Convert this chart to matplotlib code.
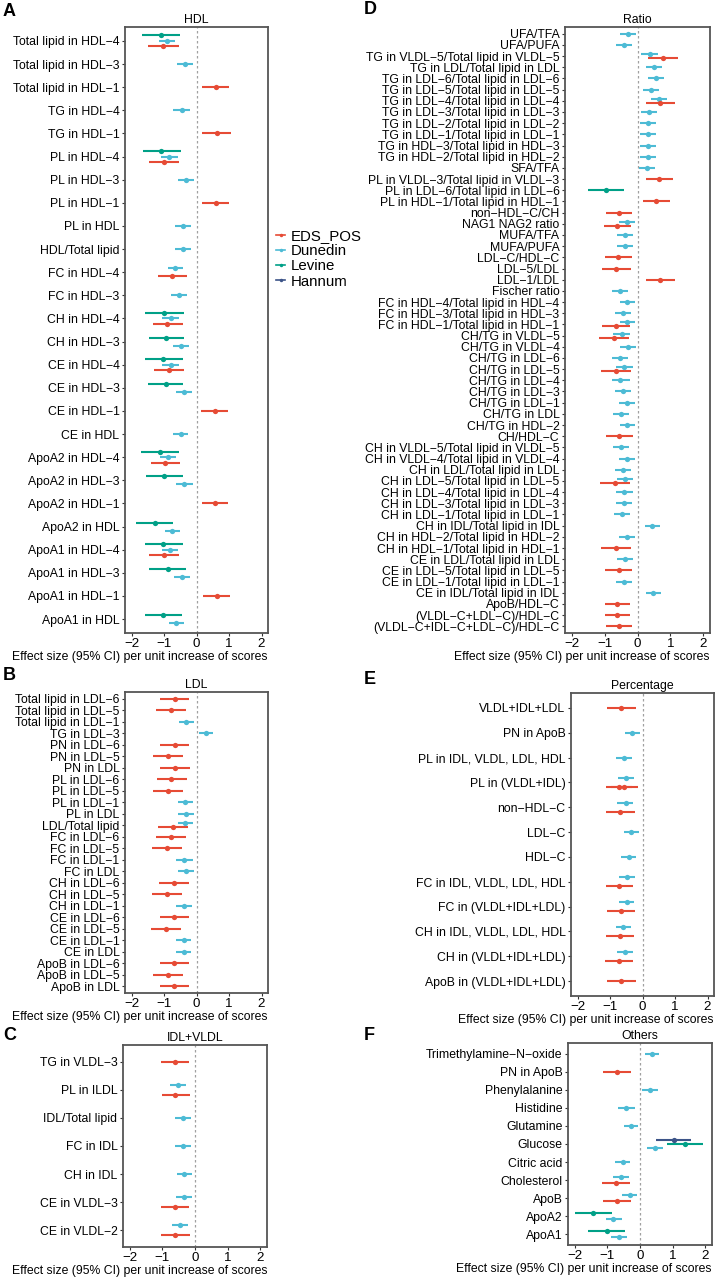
import matplotlib
matplotlib.use("Agg")
import matplotlib.pyplot as plt
from matplotlib.lines import Line2D

plt.rcParams['font.family'] = ['Liberation Sans', 'DejaVu Sans']

# cohorts, drawn top to bottom inside a row
cohorts = ['Hannum', 'Levine', 'Dunedin', 'EDS_POS']
colors = {'EDS_POS': '#E64B35', 'Dunedin': '#4DBBD5',
          'Levine': '#00A087', 'Hannum': '#3C5488'}
legend_order = ['EDS_POS', 'Dunedin', 'Levine', 'Hannum']

# ---- A: HDL  (label, cohort, estimate, lower, upper)
hdl_labels = ['Total lipid in HDL-4', 'Total lipid in HDL-3', 'Total lipid in HDL-1',
              'TG in HDL-4', 'TG in HDL-1', 'PL in HDL-4', 'PL in HDL-3', 'PL in HDL-1',
              'PL in HDL', 'HDL/Total lipid', 'FC in HDL-4', 'FC in HDL-3',
              'CH in HDL-4', 'CH in HDL-3', 'CE in HDL-4', 'CE in HDL-3', 'CE in HDL-1',
              'CE in HDL', 'ApoA2 in HDL-4', 'ApoA2 in HDL-3', 'ApoA2 in HDL-1',
              'ApoA2 in HDL', 'ApoA1 in HDL-4', 'ApoA1 in HDL-3', 'ApoA1 in HDL-1',
              'ApoA1 in HDL']
hdl_rows = [
    ('Total lipid in HDL-4', 'Levine', -1.10, -1.68, -0.50),
    ('Total lipid in HDL-4', 'Dunedin', -0.91, -1.15, -0.66),
    ('Total lipid in HDL-4', 'EDS_POS', -1.03, -1.49, -0.55),
    ('Total lipid in HDL-3', 'Dunedin', -0.36, -0.61, -0.12),
    ('Total lipid in HDL-1', 'EDS_POS', 0.59, 0.18, 1.00),
    ('TG in HDL-4', 'Dunedin', -0.46, -0.71, -0.21),
    ('TG in HDL-1', 'EDS_POS', 0.63, 0.18, 1.06),
    ('PL in HDL-4', 'Levine', -1.08, -1.66, -0.48),
    ('PL in HDL-4', 'Dunedin', -0.84, -1.09, -0.58),
    ('PL in HDL-4', 'EDS_POS', -1.00, -1.47, -0.53),
    ('PL in HDL-3', 'Dunedin', -0.33, -0.56, -0.09),
    ('PL in HDL-1', 'EDS_POS', 0.60, 0.18, 1.00),
    ('PL in HDL', 'Dunedin', -0.42, -0.65, -0.17),
    ('HDL/Total lipid', 'Dunedin', -0.43, -0.67, -0.18),
    ('FC in HDL-4', 'Dunedin', -0.65, -0.87, -0.41),
    ('FC in HDL-4', 'EDS_POS', -0.75, -1.18, -0.30),
    ('FC in HDL-3', 'Dunedin', -0.53, -0.78, -0.30),
    ('CH in HDL-4', 'Levine', -1.00, -1.58, -0.40),
    ('CH in HDL-4', 'Dunedin', -0.79, -1.05, -0.53),
    ('CH in HDL-4', 'EDS_POS', -0.91, -1.35, -0.43),
    ('CH in HDL-3', 'Levine', -0.94, -1.46, -0.38),
    ('CH in HDL-3', 'Dunedin', -0.47, -0.71, -0.23),
    ('CE in HDL-4', 'Levine', -1.02, -1.58, -0.43),
    ('CE in HDL-4', 'Dunedin', -0.80, -1.05, -0.53),
    ('CE in HDL-4', 'EDS_POS', -0.85, -1.30, -0.38),
    ('CE in HDL-3', 'Levine', -0.95, -1.48, -0.42),
    ('CE in HDL-3', 'Dunedin', -0.39, -0.62, -0.15),
    ('CE in HDL-1', 'EDS_POS', 0.56, 0.15, 0.97),
    ('CE in HDL', 'Dunedin', -0.48, -0.72, -0.25),
    ('ApoA2 in HDL-4', 'Levine', -1.12, -1.71, -0.53),
    ('ApoA2 in HDL-4', 'Dunedin', -0.88, -1.13, -0.64),
    ('ApoA2 in HDL-4', 'EDS_POS', -0.96, -1.41, -0.50),
    ('ApoA2 in HDL-3', 'Levine', -1.00, -1.56, -0.43),
    ('ApoA2 in HDL-3', 'Dunedin', -0.37, -0.62, -0.12),
    ('ApoA2 in HDL-1', 'EDS_POS', 0.57, 0.16, 0.98),
    ('ApoA2 in HDL', 'Levine', -1.28, -1.85, -0.72),
    ('ApoA2 in HDL', 'Dunedin', -0.75, -0.97, -0.50),
    ('ApoA1 in HDL-4', 'Levine', -1.02, -1.60, -0.42),
    ('ApoA1 in HDL-4', 'Dunedin', -0.81, -1.06, -0.56),
    ('ApoA1 in HDL-4', 'EDS_POS', -1.00, -1.45, -0.53),
    ('ApoA1 in HDL-3', 'Levine', -0.89, -1.46, -0.33),
    ('ApoA1 in HDL-3', 'Dunedin', -0.44, -0.69, -0.19),
    ('ApoA1 in HDL-1', 'EDS_POS', 0.62, 0.21, 1.03),
    ('ApoA1 in HDL', 'Levine', -1.04, -1.58, -0.46),
    ('ApoA1 in HDL', 'Dunedin', -0.63, -0.86, -0.38),
]

# ---- B: LDL
ldl_labels = ['Total lipid in LDL-6', 'Total lipid in LDL-5', 'Total lipid in LDL-1',
              'TG in LDL-3', 'PN in LDL-6', 'PN in LDL-5', 'PN in LDL', 'PL in LDL-6',
              'PL in LDL-5', 'PL in LDL-1', 'PL in LDL', 'LDL/Total lipid', 'FC in LDL-6',
              'FC in LDL-5', 'FC in LDL-1', 'FC in LDL', 'CH in LDL-6', 'CH in LDL-5',
              'CH in LDL-1', 'CE in LDL-6', 'CE in LDL-5', 'CE in LDL-1', 'CE in LDL',
              'ApoB in LDL-6', 'ApoB in LDL-5', 'ApoB in LDL']
ldl_rows = [
    ('Total lipid in LDL-6', 'EDS_POS', -0.67, -1.12, -0.22),
    ('Total lipid in LDL-5', 'EDS_POS', -0.79, -1.24, -0.32),
    ('Total lipid in LDL-1', 'Dunedin', -0.31, -0.55, -0.08),
    ('TG in LDL-3', 'Dunedin', 0.30, 0.07, 0.52),
    ('PN in LDL-6', 'EDS_POS', -0.67, -1.12, -0.22),
    ('PN in LDL-5', 'EDS_POS', -0.88, -1.35, -0.41),
    ('PN in LDL', 'EDS_POS', -0.67, -1.12, -0.21),
    ('PL in LDL-6', 'EDS_POS', -0.77, -1.22, -0.29),
    ('PL in LDL-5', 'EDS_POS', -0.88, -1.35, -0.41),
    ('PL in LDL-1', 'Dunedin', -0.34, -0.58, -0.10),
    ('PL in LDL', 'Dunedin', -0.33, -0.57, -0.09),
    ('LDL/Total lipid', 'Dunedin', -0.34, -0.58, -0.10),
    ('LDL/Total lipid', 'EDS_POS', -0.73, -1.17, -0.27),
    ('FC in LDL-6', 'EDS_POS', -0.79, -1.25, -0.32),
    ('FC in LDL-5', 'EDS_POS', -0.91, -1.38, -0.45),
    ('FC in LDL-1', 'Dunedin', -0.37, -0.62, -0.12),
    ('FC in LDL', 'Dunedin', -0.32, -0.57, -0.08),
    ('CH in LDL-6', 'EDS_POS', -0.69, -1.14, -0.24),
    ('CH in LDL-5', 'EDS_POS', -0.90, -1.37, -0.44),
    ('CH in LDL-1', 'Dunedin', -0.39, -0.63, -0.15),
    ('CE in LDL-6', 'EDS_POS', -0.68, -1.12, -0.23),
    ('CE in LDL-5', 'EDS_POS', -0.94, -1.41, -0.48),
    ('CE in LDL-1', 'Dunedin', -0.40, -0.64, -0.17),
    ('CE in LDL', 'Dunedin', -0.39, -0.63, -0.16),
    ('ApoB in LDL-6', 'EDS_POS', -0.68, -1.12, -0.23),
    ('ApoB in LDL-5', 'EDS_POS', -0.88, -1.33, -0.41),
    ('ApoB in LDL', 'EDS_POS', -0.68, -1.12, -0.23),
]

# ---- C: IDL+VLDL
idl_labels = ['TG in VLDL-3', 'PL in ILDL', 'IDL/Total lipid', 'FC in IDL',
              'CH in IDL', 'CE in VLDL-3', 'CE in VLDL-2']
idl_rows = [
    ('TG in VLDL-3', 'EDS_POS', -0.62, -1.03, -0.19),
    ('PL in ILDL', 'Dunedin', -0.53, -0.76, -0.28),
    ('PL in ILDL', 'EDS_POS', -0.60, -1.02, -0.16),
    ('IDL/Total lipid', 'Dunedin', -0.37, -0.60, -0.13),
    ('FC in IDL', 'Dunedin', -0.37, -0.60, -0.13),
    ('CH in IDL', 'Dunedin', -0.33, -0.56, -0.09),
    ('CE in VLDL-3', 'Dunedin', -0.35, -0.58, -0.10),
    ('CE in VLDL-3', 'EDS_POS', -0.62, -1.05, -0.18),
    ('CE in VLDL-2', 'Dunedin', -0.46, -0.70, -0.21),
    ('CE in VLDL-2', 'EDS_POS', -0.60, -1.03, -0.16),
]

# ---- D: Ratio
ratio_labels = ['UFA/TFA', 'UFA/PUFA', 'TG in VLDL-5/Total lipid in VLDL-5',
                'TG in LDL/Total lipid in LDL', 'TG in LDL-6/Total lipid in LDL-6',
                'TG in LDL-5/Total lipid in LDL-5', 'TG in LDL-4/Total lipid in LDL-4',
                'TG in LDL-3/Total lipid in LDL-3', 'TG in LDL-2/Total lipid in LDL-2',
                'TG in LDL-1/Total lipid in LDL-1', 'TG in HDL-3/Total lipid in HDL-3',
                'TG in HDL-2/Total lipid in HDL-2', 'SFA/TFA',
                'PL in VLDL-3/Total lipid in VLDL-3', 'PL in LDL-6/Total lipid in LDL-6',
                'PL in HDL-1/Total lipid in HDL-1', 'non-HDL-C/CH', 'NAG1 NAG2 ratio',
                'MUFA/TFA', 'MUFA/PUFA', 'LDL-C/HDL-C', 'LDL-5/LDL', 'LDL-1/LDL',
                'Fischer ratio', 'FC in HDL-4/Total lipid in HDL-4',
                'FC in HDL-3/Total lipid in HDL-3', 'FC in HDL-1/Total lipid in HDL-1',
                'CH/TG in VLDL-5', 'CH/TG in VLDL-4', 'CH/TG in LDL-6', 'CH/TG in LDL-5',
                'CH/TG in LDL-4', 'CH/TG in LDL-3', 'CH/TG in LDL-1', 'CH/TG in LDL',
                'CH/TG in HDL-2', 'CH/HDL-C', 'CH in VLDL-5/Total lipid in VLDL-5',
                'CH in VLDL-4/Total lipid in VLDL-4', 'CH in LDL/Total lipid in LDL',
                'CH in LDL-5/Total lipid in LDL-5', 'CH in LDL-4/Total lipid in LDL-4',
                'CH in LDL-3/Total lipid in LDL-3', 'CH in LDL-1/Total lipid in LDL-1',
                'CH in IDL/Total lipid in IDL', 'CH in HDL-2/Total lipid in HDL-2',
                'CH in HDL-1/Total lipid in HDL-1', 'CE in LDL/Total lipid in LDL',
                'CE in LDL-5/Total lipid in LDL-5', 'CE in LDL-1/Total lipid in LDL-1',
                'CE in IDL/Total lipid in IDL', 'ApoB/HDL-C', '(VLDL-C+LDL-C)/HDL-C',
                '(VLDL-C+IDL-C+LDL-C)/HDL-C']
ratio_rows = [
    ('UFA/TFA', 'Dunedin', -0.29, -0.52, -0.04),
    ('UFA/PUFA', 'Dunedin', -0.42, -0.66, -0.18),
    ('TG in VLDL-5/Total lipid in VLDL-5', 'Dunedin', 0.37, 0.12, 0.63),
    ('TG in VLDL-5/Total lipid in VLDL-5', 'EDS_POS', 0.78, 0.32, 1.22),
    ('TG in LDL/Total lipid in LDL', 'Dunedin', 0.50, 0.27, 0.75),
    ('TG in LDL-6/Total lipid in LDL-6', 'Dunedin', 0.56, 0.33, 0.81),
    ('TG in LDL-5/Total lipid in LDL-5', 'Dunedin', 0.42, 0.17, 0.66),
    ('TG in LDL-4/Total lipid in LDL-4', 'Dunedin', 0.64, 0.40, 0.88),
    ('TG in LDL-4/Total lipid in LDL-4', 'EDS_POS', 0.69, 0.25, 1.15),
    ('TG in LDL-3/Total lipid in LDL-3', 'Dunedin', 0.35, 0.11, 0.59),
    ('TG in LDL-2/Total lipid in LDL-2', 'Dunedin', 0.33, 0.09, 0.57),
    ('TG in LDL-1/Total lipid in LDL-1', 'Dunedin', 0.33, 0.09, 0.57),
    ('TG in HDL-3/Total lipid in HDL-3', 'Dunedin', 0.31, 0.07, 0.55),
    ('TG in HDL-2/Total lipid in HDL-2', 'Dunedin', 0.31, 0.07, 0.55),
    ('SFA/TFA', 'Dunedin', 0.29, 0.06, 0.52),
    ('PL in VLDL-3/Total lipid in VLDL-3', 'EDS_POS', 0.65, 0.25, 1.07),
    ('PL in LDL-6/Total lipid in LDL-6', 'Levine', -0.95, -1.50, -0.40),
    ('PL in HDL-1/Total lipid in HDL-1', 'EDS_POS', 0.56, 0.16, 0.98),
    ('non-HDL-C/CH', 'EDS_POS', -0.55, -0.95, -0.16),
    ('NAG1 NAG2 ratio', 'Dunedin', -0.32, -0.55, -0.08),
    ('NAG1 NAG2 ratio', 'EDS_POS', -0.61, -1.01, -0.19),
    ('MUFA/TFA', 'Dunedin', -0.37, -0.61, -0.13),
    ('MUFA/PUFA', 'Dunedin', -0.39, -0.63, -0.14),
    ('LDL-C/HDL-C', 'EDS_POS', -0.59, -1.00, -0.16),
    ('LDL-5/LDL', 'EDS_POS', -0.65, -1.09, -0.21),
    ('LDL-1/LDL', 'EDS_POS', 0.69, 0.25, 1.14),
    ('Fischer ratio', 'Dunedin', -0.53, -0.77, -0.29),
    ('FC in HDL-4/Total lipid in HDL-4', 'Dunedin', -0.31, -0.54, -0.07),
    ('FC in HDL-3/Total lipid in HDL-3', 'Dunedin', -0.44, -0.68, -0.20),
    ('FC in HDL-1/Total lipid in HDL-1', 'Dunedin', -0.31, -0.52, -0.07),
    ('FC in HDL-1/Total lipid in HDL-1', 'EDS_POS', -0.66, -1.09, -0.24),
    ('CH/TG in VLDL-5', 'Dunedin', -0.47, -0.73, -0.22),
    ('CH/TG in VLDL-5', 'EDS_POS', -0.71, -1.17, -0.25),
    ('CH/TG in VLDL-4', 'Dunedin', -0.29, -0.52, -0.05),
    ('CH/TG in LDL-6', 'Dunedin', -0.53, -0.78, -0.28),
    ('CH/TG in LDL-5', 'Dunedin', -0.40, -0.65, -0.15),
    ('CH/TG in LDL-5', 'EDS_POS', -0.65, -1.11, -0.19),
    ('CH/TG in LDL-4', 'Dunedin', -0.52, -0.78, -0.24),
    ('CH/TG in LDL-3', 'Dunedin', -0.44, -0.68, -0.21),
    ('CH/TG in LDL-1', 'Dunedin', -0.33, -0.56, -0.09),
    ('CH/TG in LDL', 'Dunedin', -0.49, -0.73, -0.25),
    ('CH/TG in HDL-2', 'Dunedin', -0.32, -0.54, -0.08),
    ('CH/HDL-C', 'EDS_POS', -0.55, -0.95, -0.15),
    ('CH in VLDL-5/Total lipid in VLDL-5', 'Dunedin', -0.49, -0.73, -0.25),
    ('CH in VLDL-4/Total lipid in VLDL-4', 'Dunedin', -0.32, -0.55, -0.08),
    ('CH in LDL/Total lipid in LDL', 'Dunedin', -0.45, -0.69, -0.21),
    ('CH in LDL-5/Total lipid in LDL-5', 'Dunedin', -0.39, -0.63, -0.14),
    ('CH in LDL-5/Total lipid in LDL-5', 'EDS_POS', -0.69, -1.14, -0.22),
    ('CH in LDL-4/Total lipid in LDL-4', 'Dunedin', -0.40, -0.65, -0.15),
    ('CH in LDL-3/Total lipid in LDL-3', 'Dunedin', -0.41, -0.65, -0.17),
    ('CH in LDL-1/Total lipid in LDL-1', 'Dunedin', -0.46, -0.70, -0.22),
    ('CH in IDL/Total lipid in IDL', 'Dunedin', 0.45, 0.22, 0.69),
    ('CH in HDL-2/Total lipid in HDL-2', 'Dunedin', -0.32, -0.55, -0.08),
    ('CH in HDL-1/Total lipid in HDL-1', 'EDS_POS', -0.65, -1.11, -0.19),
    ('CE in LDL/Total lipid in LDL', 'Dunedin', -0.37, -0.61, -0.13),
    ('CE in LDL-5/Total lipid in LDL-5', 'EDS_POS', -0.57, -1.00, -0.16),
    ('CE in LDL-1/Total lipid in LDL-1', 'Dunedin', -0.41, -0.65, -0.17),
    ('CE in IDL/Total lipid in IDL', 'Dunedin', 0.48, 0.25, 0.72),
    ('ApoB/HDL-C', 'EDS_POS', -0.62, -1.00, -0.22),
    ('(VLDL-C+LDL-C)/HDL-C', 'EDS_POS', -0.62, -1.00, -0.22),
    ('(VLDL-C+IDL-C+LDL-C)/HDL-C', 'EDS_POS', -0.56, -0.95, -0.17),
]

# ---- E: Percentage
pct_labels = ['VLDL+IDL+LDL', 'PN in ApoB', 'PL in IDL, VLDL, LDL, HDL', 'PL in (VLDL+IDL)',
              'non-HDL-C', 'LDL-C', 'HDL-C', 'FC in IDL, VLDL, LDL, HDL',
              'FC in (VLDL+IDL+LDL)', 'CH in IDL, VLDL, LDL, HDL', 'CH in (VLDL+IDL+LDL)',
              'ApoB in (VLDL+IDL+LDL)']
pct_rows = [
    ('VLDL+IDL+LDL', 'EDS_POS', -0.65, -1.08, -0.21),
    ('PN in ApoB', 'Dunedin', -0.31, -0.54, -0.08),
    ('PL in IDL, VLDL, LDL, HDL', 'Dunedin', -0.56, -0.81, -0.32),
    ('PL in (VLDL+IDL)', 'Dunedin', -0.50, -0.74, -0.27),
    ('PL in (VLDL+IDL)', 'EDS_POS', -0.72, -1.13, -0.31),
    ('PL in (VLDL+IDL)', 'EDS_POS', -0.56, -0.98, -0.15),
    ('non-HDL-C', 'Dunedin', -0.52, -0.77, -0.29),
    ('non-HDL-C', 'EDS_POS', -0.68, -1.11, -0.24),
    ('LDL-C', 'Dunedin', -0.34, -0.58, -0.10),
    ('HDL-C', 'Dunedin', -0.43, -0.66, -0.19),
    ('FC in IDL, VLDL, LDL, HDL', 'Dunedin', -0.48, -0.72, -0.24),
    ('FC in IDL, VLDL, LDL, HDL', 'EDS_POS', -0.71, -1.13, -0.29),
    ('FC in (VLDL+IDL+LDL)', 'Dunedin', -0.49, -0.73, -0.26),
    ('FC in (VLDL+IDL+LDL)', 'EDS_POS', -0.65, -1.08, -0.22),
    ('CH in IDL, VLDL, LDL, HDL', 'Dunedin', -0.59, -0.83, -0.35),
    ('CH in IDL, VLDL, LDL, HDL', 'EDS_POS', -0.69, -1.12, -0.25),
    ('CH in (VLDL+IDL+LDL)', 'Dunedin', -0.53, -0.77, -0.29),
    ('CH in (VLDL+IDL+LDL)', 'EDS_POS', -0.73, -1.16, -0.29),
    ('ApoB in (VLDL+IDL+LDL)', 'EDS_POS', -0.65, -1.08, -0.21),
]

# ---- F: Others
oth_labels = ['Trimethylamine-N-oxide', 'PN in ApoB', 'Phenylalanine', 'Histidine',
              'Glutamine', 'Glucose', 'Citric acid', 'Cholesterol', 'ApoB', 'ApoA2', 'ApoA1']
oth_rows = [
    ('Trimethylamine-N-oxide', 'Dunedin', 0.37, 0.16, 0.57),
    ('PN in ApoB', 'EDS_POS', -0.70, -1.12, -0.27),
    ('Phenylalanine', 'Dunedin', 0.30, 0.06, 0.54),
    ('Histidine', 'Dunedin', -0.42, -0.66, -0.16),
    ('Glutamine', 'Dunedin', -0.27, -0.48, -0.06),
    ('Glucose', 'Hannum', 1.03, 0.50, 1.56),
    ('Glucose', 'Levine', 1.37, 0.81, 1.93),
    ('Glucose', 'Dunedin', 0.45, 0.22, 0.70),
    ('Citric acid', 'Dunedin', -0.53, -0.76, -0.30),
    ('Cholesterol', 'Dunedin', -0.59, -0.83, -0.35),
    ('Cholesterol', 'EDS_POS', -0.74, -1.17, -0.30),
    ('ApoB', 'Dunedin', -0.32, -0.56, -0.08),
    ('ApoB', 'EDS_POS', -0.70, -1.12, -0.27),
    ('ApoA2', 'Levine', -1.43, -1.99, -0.86),
    ('ApoA2', 'Dunedin', -0.81, -1.05, -0.55),
    ('ApoA1', 'Levine', -1.00, -1.58, -0.45),
    ('ApoA1', 'Dunedin', -0.65, -0.88, -0.40),
]

W, H = 718, 1280
FS = 8.8
fig = plt.figure(figsize=(W / 100, H / 100), dpi=100)


def add_panel(x0, x1, y0, y1):
    return fig.add_axes([x0 / W, 1 - y1 / H, (x1 - x0) / W, (y1 - y0) / H])


def mfix(s):
    return s.replace('-', '\u2212')


def forest(ax, labels, rows, title):
    n = len(labels)
    for i, lab in enumerate(labels):
        yrow = n - 1 - i
        rs = [r for r in rows if r[0] == lab]
        present = [c for c in cohorts if any(r[1] == c for r in rs)]
        k = len(present)
        for r in rs:
            j = present.index(r[1])
            y = yrow + 0.35 - (j + 0.5) * 0.7 / k
            ax.plot([r[3], r[4]], [y, y], color=colors[r[1]], lw=1.5,
                    solid_capstyle='butt', zorder=2)
            ax.plot(r[2], y, 'o', color=colors[r[1]], ms=3.8, mew=0, zorder=3)
    ax.axvline(0, color='#a0a0a0', ls=(0, (2, 2)), lw=0.9, zorder=1)
    ax.set_xlim(-2.2, 2.2)
    ax.set_ylim(-0.6, n - 0.4)
    ax.set_yticks(range(n))
    ax.set_yticklabels([mfix(l) for l in labels[::-1]])
    ax.set_xticks([-2, -1, 0, 1, 2])
    ax.set_xticklabels([mfix(str(v)) for v in [-2, -1, 0, 1, 2]])
    ax.tick_params(labelsize=FS, length=2.5, width=0.8, color='#333333',
                   labelcolor='black', pad=1.5)
    ax.tick_params(axis='x', labelsize=9.6, pad=1)
    for sp in ax.spines.values():
        sp.set_color('#555555')
        sp.set_linewidth(1.3)
    ax.set_title(title, fontsize=FS, pad=3)
    ax.set_xlabel('Effect size (95% CI) per unit increase of scores',
                  fontsize=FS, loc='right', labelpad=0.5)


axA = add_panel(125, 268, 27, 633)
forest(axA, hdl_labels, hdl_rows, 'HDL')
axB = add_panel(125, 268, 692, 993)
forest(axB, ldl_labels, ldl_rows, 'LDL')
axC = add_panel(123, 267, 1045, 1247)
forest(axC, idl_labels, idl_rows, 'IDL+VLDL')
axD = add_panel(565, 710, 27, 633)
forest(axD, ratio_labels, ratio_rows, 'Ratio')
axE = add_panel(571, 714, 693, 996)
forest(axE, pct_labels, pct_rows, 'Percentage')
axF = add_panel(568, 712, 1043, 1245)
forest(axF, oth_labels, oth_rows, 'Others')

# panel letters
for letter, (px, py) in {'A': (3, 12), 'B': (3, 676), 'C': (3, 1036),
                         'D': (364, 10), 'E': (364, 680), 'F': (364, 1035)}.items():
    fig.text(px / W, 1 - py / H, letter, fontsize=13, fontweight='bold',
             va='center', ha='left')

# legend
handles = [Line2D([0], [0], color=colors[c], lw=1.2, marker='o', ms=2.5, mew=0)
           for c in legend_order]
fig.legend(handles, legend_order,
           loc='upper left', bbox_to_anchor=(276 / W, 1 - 229 / H),
           frameon=False, fontsize=10.8, handlelength=0.6, handletextpad=0.35,
           labelspacing=0.08, borderpad=0, borderaxespad=0)

fig.savefig('out.png', dpi=100)
